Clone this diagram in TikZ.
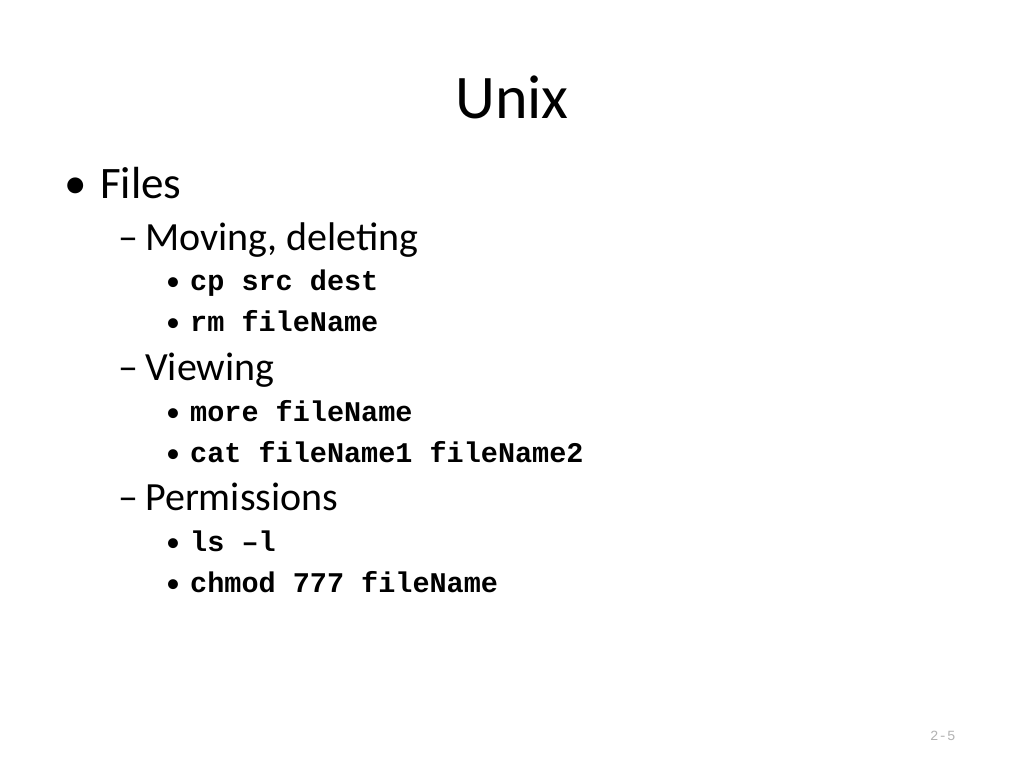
\documentclass[tikz,border=0pt]{standalone}
\usepackage{fontspec}
\setmainfont{Carlito}
\newfontfamily\codefont{Liberation Mono}
\tikzset{
  line/.style={anchor=base west, inner sep=0pt},
  lvlone/.style={line, font=\fontsize{45}{50}\selectfont},
  lvltwo/.style={line, font=\fontsize{40}{44}\selectfont},
  lvlcmd/.style={line, font=\fontsize{28.5}{32}\selectfont\codefont\bfseries},
  dotmark/.style={line, font=\fontsize{28}{32}\selectfont}
}
\begin{document}
\begin{tikzpicture}[x=1pt,y=-1pt]
  \useasboundingbox (0,0) rectangle (1024,768);
  \node[anchor=base, inner sep=0pt, font=\fontsize{62}{70}\selectfont] (title) at (512,118) {Unix};
  % level one
  \node[lvlone] (b1) at (64,198) {•};
  \node[lvlone] (files) at (100,198) {Files};
  % moving, deleting
  \node[lvltwo] (d1) at (118,250) {–};
  \node[lvltwo] (moving) at (145,250) {Moving, deleting};
  \node[dotmark] (m1) at (166,290) {•};
  \node[lvlcmd] (cp) at (190,290) {cp src dest};
  \node[dotmark] (m2) at (166,331) {•};
  \node[lvlcmd] (rm) at (190,331) {rm fileName};
  % viewing
  \node[lvltwo] (d2) at (118,380) {–};
  \node[lvltwo] (viewing) at (145,380) {Viewing};
  \node[dotmark] (m3) at (166,421) {•};
  \node[lvlcmd] (more) at (190,421) {more fileName};
  \node[dotmark] (m4) at (166,462) {•};
  \node[lvlcmd] (cat) at (190,462) {cat fileName1 fileName2};
  % permissions
  \node[lvltwo] (d3) at (118,510) {–};
  \node[lvltwo] (perm) at (145,510) {Permissions};
  \node[dotmark] (m5) at (166,551) {•};
  \node[lvlcmd] (ls) at (190,551) {ls –l};
  \node[dotmark] (m6) at (166,592) {•};
  \node[lvlcmd] (chmod) at (190,592) {chmod 777 fileName};
  % page number
  \node[line, text=gray!60, font=\fontsize{14}{16}\selectfont\codefont] (page) at (930,740) {2-5};
\end{tikzpicture}
\end{document}
